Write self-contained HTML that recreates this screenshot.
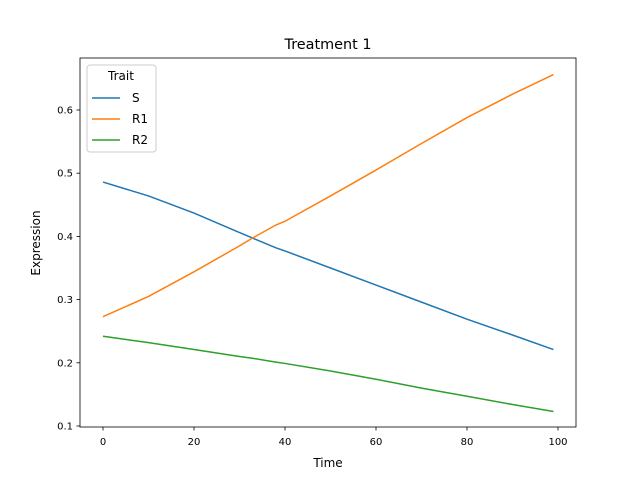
<!DOCTYPE html>
<html><head><meta charset="utf-8"><style>
body{margin:0;background:#fff}
svg{font-family:"DejaVu Sans","Liberation Sans",sans-serif}
</style></head><body>
<svg id="chart" width="640" height="480" viewBox="0 0 640 480">
<rect width="640" height="480" fill="#fff"/>
<text x="328" y="49" font-size="14.4" text-anchor="middle">Treatment 1</text>
<g id="axes"></g>
<g id="series"></g>
<rect x="80" y="58" width="496" height="369" fill="none" stroke="#000" stroke-width="0.8"/>
<text x="328" y="467" font-size="12" text-anchor="middle">Time</text>
<text transform="translate(40,243) rotate(-90)" font-size="12" text-anchor="middle">Expression</text>
<g>
<rect x="87" y="65" width="69" height="87" rx="3" fill="#fff" fill-opacity="0.8" stroke="#ccc"/>
<text x="121" y="80" font-size="12" text-anchor="middle">Trait</text>
<g id="legend-items"></g>
</g>
</svg>
<script>
const times=[0,10,20,30,33,38,40,50,60,70,80,90,99];
const sVals=[0.486,0.464,0.437,0.406,0.397,0.382,0.377,0.350,0.323,0.296,0.269,0.244,0.221];
const r1Vals=[0.273,0.305,0.344,0.385,0.398,0.418,0.424,0.464,0.505,0.547,0.588,0.625,0.656];
const r2Vals=[0.242,0.232,0.221,0.210,0.207,0.201,0.199,0.187,0.174,0.160,0.147,0.134,0.123];
const xTicks=[0,20,40,60,80,100];
const yTicks=[0.1,0.2,0.3,0.4,0.5,0.6];
const seriesNames=["S","R1","R2"];
const colors=["#1f77b4","#ff7f0e","#2ca02c"];
const NS="http://www.w3.org/2000/svg";
const xS=v=>103+v*4.55;
const yS=v=>426-(v-0.1)*632;
const axes=document.getElementById('axes');
function mk(tag,attrs,parent){const e=document.createElementNS(NS,tag);for(const k in attrs)e.setAttribute(k,attrs[k]);parent.appendChild(e);return e;}
xTicks.forEach(t=>{const x=xS(t);
 const l=mk('line',{x1:x,x2:x,y1:427,y2:430.5,stroke:'#000','stroke-width':0.8},axes);
 
 
 const tx=mk('text',{x:x,y:445,'font-size':10,'text-anchor':'middle'},axes);tx.textContent=t;
 
 
});
yTicks.forEach(t=>{const y=yS(t);
 const l=mk('line',{x1:76.5,x2:80,y1:y,y2:y,stroke:'#000','stroke-width':0.8},axes);
 
 
 const tx=mk('text',{x:73,y:y+3.5,'font-size':10,'text-anchor':'end'},axes);tx.textContent=t.toFixed(1);
 
 
});
const ser=document.getElementById('series');
[sVals,r1Vals,r2Vals].forEach((vals,i)=>{
 const p=mk('polyline',{points:vals.map((v,j)=>xS(times[j])+','+yS(v)).join(' '),fill:'none',stroke:colors[i],'stroke-width':1.5},ser);
 
 
});
const leg=document.getElementById('legend-items');
seriesNames.forEach((n,i)=>{const y=98+i*21;
 const l=mk('line',{x1:92,x2:120,y1:y,y2:y,stroke:colors[i],'stroke-width':1.5},leg);
 
 
 const t=mk('text',{x:132,y:y+4,'font-size':12},leg);t.textContent=n;
 
 
});
</script>
</body></html>
